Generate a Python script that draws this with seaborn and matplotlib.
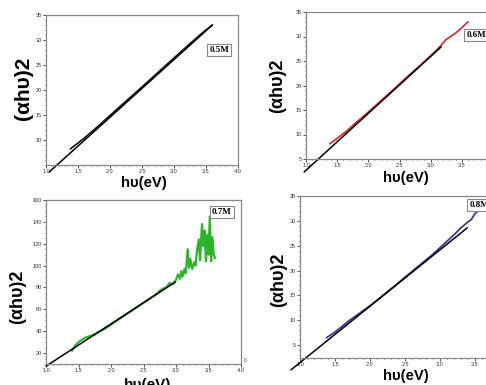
import numpy as np
import pandas as pd
import matplotlib
matplotlib.use("Agg")
import matplotlib.pyplot as plt
import seaborn as sns

sns.set_style("white")
plt.rcParams['font.family'] = ['Liberation Sans', 'DejaVu Sans']
plt.rcParams['text.color'] = 'black'

# ---------------- data ----------------
# Panel 0.5M
x05 = [1.38, 1.45, 1.50, 1.60, 1.80, 2.00, 2.20, 2.50, 2.80, 3.00, 3.20, 3.35, 3.45, 3.60]
y05 = [8.2, 8.9, 9.4, 10.4, 12.6, 14.9, 17.2, 20.6, 24.1, 26.4, 28.7, 30.4, 31.5, 33.0]
fx05 = [1.05, 3.60]
fy05 = [3.6, 33.0]

# Panel 0.6M
x06 = [1.38, 1.50, 1.65, 1.80, 2.00, 2.30, 2.60, 2.90, 3.10, 3.25, 3.40, 3.50, 3.60]
y06 = [8.1, 9.2, 10.7, 12.4, 14.6, 18.0, 21.5, 24.9, 27.3, 29.4, 30.7, 31.8, 33.0]
fx06 = [0.97, 3.17]
fy06 = [2.35, 27.9]

# Panel 0.7M
x07 = [1.40, 1.45, 1.50, 1.55, 1.60, 1.65, 1.70, 1.75, 1.80, 1.90, 2.00, 2.10, 2.20,
       2.30, 2.40, 2.50, 2.60, 2.70, 2.75, 2.80, 2.85, 2.90, 2.95, 3.00, 3.03, 3.06,
       3.08, 3.10, 3.13, 3.15, 3.18, 3.20, 3.22, 3.25, 3.28, 3.30, 3.32, 3.35, 3.37,
       3.40, 3.42, 3.44, 3.46, 3.48, 3.50, 3.52, 3.54, 3.56, 3.58, 3.60]
y07 = [22, 27, 30, 32, 34, 35, 36, 37, 39, 42, 46, 50, 54,
       58, 62, 66, 70, 74, 77, 79, 80, 84, 83, 87, 92, 88,
       95, 90, 97, 93, 115, 98, 106, 97, 103, 100, 112, 124, 105,
       138, 118, 132, 104, 128, 110, 145, 104, 126, 110, 107]
fx07 = [1.00, 2.99]
fy07 = [8.0, 85.0]

# Panel 0.8M
x08 = [1.38, 1.50, 1.70, 2.00, 2.30, 2.60, 2.90, 3.00, 3.10, 3.20, 3.30, 3.40, 3.45, 3.50, 3.55]
y08 = [6.5, 7.6, 9.9, 12.9, 16.3, 19.8, 23.3, 24.6, 25.9, 27.2, 28.6, 29.8, 30.3, 31.5, 32.0]
fx08 = [0.87, 3.39]
fy08 = [0.0, 28.6]

xticks = [1.0, 1.5, 2.0, 2.5, 3.0, 3.5, 4.0]

panels = [
    dict(name="0.5M", x=x05, y=y05, fx=fx05, fy=fy05, color="#111111", lw=1.2,
         box=(46, 15, 238, 165), xlim=(1.0, 4.0), ylim=(5, 35), yt=[10, 15, 20, 25, 30, 35],
         ylab=(24, 88, 15), xlab=(144, 183, 10.7), tag=(219, 50)),
    dict(name="0.6M", x=x06, y=y06, fx=fx06, fy=fy06, color="#e02424", lw=1.2,
         box=(306, 12, 493, 159), xlim=(1.0, 4.0), ylim=(5, 35), yt=[5, 10, 15, 20, 25, 30, 35],
         ylab=(278, 86, 13), xlab=(406, 178, 10.7), tag=(476, 35)),
    dict(name="0.7M", x=x07, y=y07, fx=fx07, fy=fy07, color="#2ab52a", lw=1.6,
         box=(46, 200, 241, 364), xlim=(1.0, 4.0), ylim=(10, 160), yt=[20, 40, 60, 80, 100, 120, 140, 160],
         ylab=(18, 297, 13), xlab=(148, 385, 11), tag=(222, 212)),
    dict(name="0.8M", x=x08, y=y08, fx=fx08, fy=fy08, color="#4b3096", lw=1.3,
         box=(300, 196, 510, 358), xlim=(1.0, 4.0), ylim=(2.4, 35), yt=[5, 10, 15, 20, 25, 30, 35],
         ylab=(279, 280, 13), xlab=(406, 376, 10.7), tag=(479, 205)),
]

W, H = 486, 385
fig = plt.figure(figsize=(W / 100, H / 100), dpi=100)

for p in panels:
    l, t, r, b = p["box"]
    ax = fig.add_axes([l / W, 1 - b / H, (r - l) / W, (b - t) / H])
    df = pd.DataFrame({"x": p["x"], "y": p["y"]})
    dff = pd.DataFrame({"x": p["fx"], "y": p["fy"]})
    sns.lineplot(data=df, x="x", y="y", ax=ax, color=p["color"], lw=p["lw"],
                 sort=False, estimator=None)
    sns.lineplot(data=dff, x="x", y="y", ax=ax, color="black", lw=1.1,
                 sort=False, estimator=None)
    for ln in ax.lines:
        ln.set_clip_on(False)
    ax.set_xlim(*p["xlim"])
    ax.set_ylim(*p["ylim"])
    ax.set_xticks(xticks)
    ax.set_yticks(p["yt"])
    ax.set_xticklabels([f"{v:.1f}" for v in xticks])
    ax.set_yticklabels([str(v) for v in p["yt"]])
    ax.minorticks_on()
    ax.tick_params(which="major", direction="out", length=2, width=0.6, labelsize=4,
                   colors="#333333", pad=1, left=True, bottom=True)
    ax.tick_params(which="minor", direction="out", length=1, width=0.5, left=True, bottom=True)
    for s in ax.spines.values():
        s.set_color("#888888")
        s.set_linewidth(0.9)
    ax.set_xlabel("")
    ax.set_ylabel("")
    fig.text(p["ylab"][0] / W, 1 - p["ylab"][1] / H, "(αhυ)2", rotation=90,
             ha="center", va="center", fontsize=p["ylab"][2], fontweight="bold", color="black")
    fig.text(p["xlab"][0] / W, 1 - p["xlab"][1] / H, "hυ(eV)",
             ha="center", va="center", fontsize=p["xlab"][2], fontweight="bold", color="black")
    fig.text(p["tag"][0] / W, 1 - p["tag"][1] / H, p["name"], ha="center", va="center",
             fontsize=6.5, fontweight="bold", family="Liberation Serif", color="black",
             bbox=dict(boxstyle="square,pad=0.25", fc="white", ec="#888888", lw=0.8))

fig.text(245 / W, 1 - 361 / H, "0", fontsize=3.5, color="#333333", ha="center", va="center")

fig.savefig("out.png", dpi=100)
